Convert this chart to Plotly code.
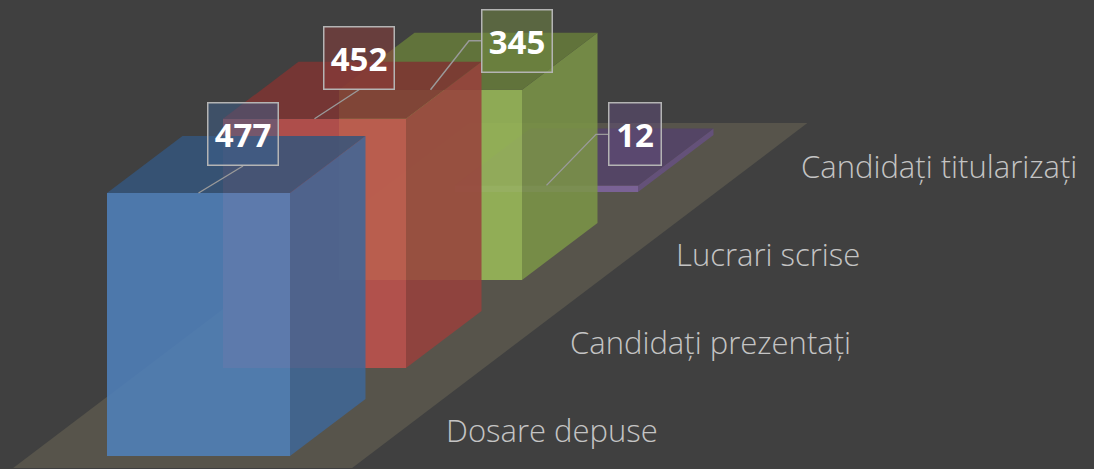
import plotly.graph_objects as go

# ---------------- data ----------------
categories = ["Dosare depuse", "Candidați prezentați", "Lucrari scrise", "Candidați titularizați"]
values = [477, 452, 345, 12]
value_labels = ["477", "452", "345", "12"]
colors = ["#4F81BD", "#C0504D", "#9BBB59", "#8064A2"]

# ---------------- style / projection ----------------
W_PX, H_PX = 1094, 469
BG = "#404040"
FLOOR = "#57544b"
ORIGIN = (107.0, 456.0)      # front-bottom-left of first series
BAR_W = 183.0                # bar width (px)
K = 263.0 / 477.0            # px per value unit
DEPTH = (75.5, -57.0)        # box depth vector
STEP = (116.0, -88.0)        # series-to-series step vector
FLOOR_MARGIN_U = 78.0
FLOOR_MARGIN_D = 0.21
ALPHA = 0.86
SHADE = {"front": 1.0, "side": 0.80, "top": 0.66}
# label box offsets relative to front-top-centre of each bar (style)
LABEL_OFFSETS = [(44.5, -59.0), (44.5, -61.0), (86.5, -49.0), (88.5, -51.0)]
# small horizontal nudges of the category labels (style)
CAT_X_NUDGE = [-4, 4, -6, 3]


def proj(u, i, f, v):
    """u: horizontal px inside bar, i: series index, f: depth fraction, v: value."""
    x = ORIGIN[0] + u + i * STEP[0] + f * DEPTH[0]
    y = ORIGIN[1] - v * K + i * STEP[1] + f * DEPTH[1]
    return x, y


def hex_rgb(h):
    h = h.lstrip("#")
    return tuple(int(h[j:j + 2], 16) for j in (0, 2, 4))


def rgba(h, shade, a):
    r, g, b = hex_rgb(h)
    return f"rgba({int(r*shade)},{int(g*shade)},{int(b*shade)},{a})"


fig = go.Figure()


def poly(pts, fill, line_color=None, lw=0):
    xs = [p[0] for p in pts] + [pts[0][0]]
    ys = [p[1] for p in pts] + [pts[0][1]]
    fig.add_trace(go.Scatter(
        x=xs, y=ys, mode="lines", fill="toself", fillcolor=fill,
        line=dict(width=lw, color=line_color or fill), hoverinfo="skip",
        showlegend=False))


# floor
n = len(values)
u0, u1 = -FLOOR_MARGIN_U, BAR_W + FLOOR_MARGIN_U
poly([proj(u0, 0, -FLOOR_MARGIN_D, 0), proj(u1, 0, -FLOOR_MARGIN_D, 0),
      proj(u1, n - 1, 1 + FLOOR_MARGIN_D, 0), proj(u0, n - 1, 1 + FLOOR_MARGIN_D, 0)], FLOOR)

# bars, back to front
for i in reversed(range(n)):
    v = values[i]
    c = colors[i]
    front = [proj(0, i, 0, 0), proj(BAR_W, i, 0, 0), proj(BAR_W, i, 0, v), proj(0, i, 0, v)]
    side = [proj(BAR_W, i, 0, 0), proj(BAR_W, i, 1, 0), proj(BAR_W, i, 1, v), proj(BAR_W, i, 0, v)]
    top = [proj(0, i, 0, v), proj(BAR_W, i, 0, v), proj(BAR_W, i, 1, v), proj(0, i, 1, v)]
    poly(front, rgba(c, SHADE["front"], ALPHA))
    poly(side, rgba(c, SHADE["side"], ALPHA))
    poly(top, rgba(c, SHADE["top"], ALPHA))

annotations = []
# data labels with leader lines
for i in range(n):
    ax, ay = proj(BAR_W / 2, i, 0, values[i])
    dx, dy = LABEL_OFFSETS[i]
    cx, cy = ax + dx, ay + dy
    bw = 18 * len(value_labels[i]) + 18
    bh = 64
    if dx > bw / 2 + 20:
        left = cx - bw / 2
        knee = (left - 12, cy)
        fig.add_trace(go.Scatter(x=[ax, knee[0], left], y=[ay, knee[1], cy], mode="lines",
                                 line=dict(color="#9a9a9a", width=1.4), hoverinfo="skip",
                                 showlegend=False))
    else:
        fig.add_trace(go.Scatter(x=[ax, cx], y=[ay, cy + bh / 2], mode="lines",
                                 line=dict(color="#9a9a9a", width=1.4), hoverinfo="skip",
                                 showlegend=False))
    annotations.append(dict(
        x=cx, y=cy, xref="x", yref="y", text=f"<b>{value_labels[i]}</b>", showarrow=False,
        xanchor="center", yanchor="middle", width=bw - 3, height=bh - 3, borderpad=0,
        bgcolor=rgba(colors[i], 0.75, 0.5), bordercolor="#b4b4b4", borderwidth=1.5,
        font=dict(family="Open Sans, sans-serif", size=33, color="white")))

# category labels
for i in range(n):
    lx, ly = proj(BAR_W + FLOOR_MARGIN_U, i, 0.5, 0)
    annotations.append(dict(
        x=lx + 42 + CAT_X_NUDGE[i], y=ly + 2, xref="x", yref="y", text=categories[i],
        showarrow=False, xanchor="left", yanchor="middle",
        font=dict(family="Open Sans, Noto Sans, sans-serif", size=31, color="#c4c4c4",
                  weight=300)))

fig.update_layout(
    width=W_PX, height=H_PX, margin=dict(l=0, r=0, t=0, b=0),
    paper_bgcolor=BG, plot_bgcolor=BG, showlegend=False,
    xaxis=dict(range=[0, W_PX], visible=False, fixedrange=True),
    yaxis=dict(range=[H_PX, 0], visible=False, fixedrange=True),
    annotations=annotations,
)
fig.write_html(
    "out.html",
    config={"displayModeBar": False},
    post_script="document.body.style.margin='0';document.body.style.background='#404040';document.body.style.overflow='hidden';",
)
